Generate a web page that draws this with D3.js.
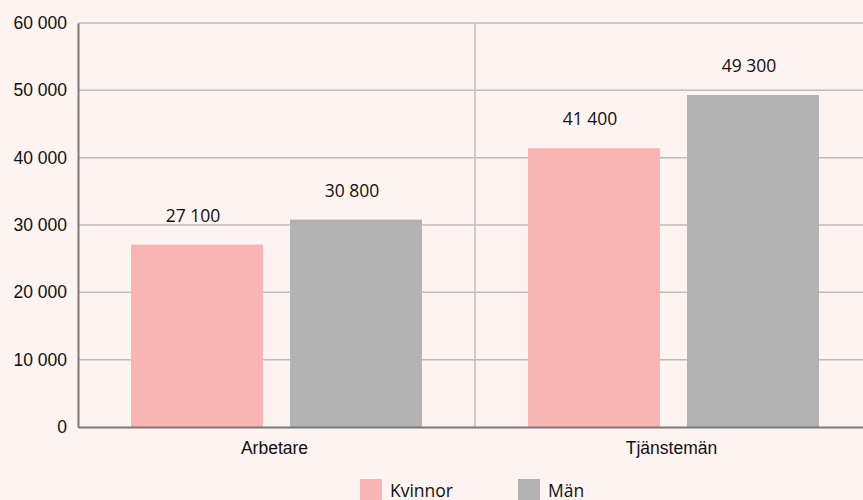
<!DOCTYPE html>
<html>
<head>
<meta charset="utf-8">
<script src="https://cdn.jsdelivr.net/npm/d3@7"></script>
<style>
  body { margin: 0; background: #fdf3f1; overflow: hidden; }
  svg { display: block; font-family: "Open Sans", "Noto Sans", sans-serif; }
</style>
</head>
<body>
<div id="chart"></div>
<script>
const categories = ["Arbetare", "Tjänstemän"];
const series = ["Kvinnor", "Män"];
const kvinnor = [27100, 41400];
const man = [30800, 49300];
const yTicks = [0, 10000, 20000, 30000, 40000, 50000, 60000];
const colors = ["#f9b5b3", "#b1b2b1"];

const width = 863;
const height = 500;
const margin = { top: 23, right: -9, bottom: 73, left: 78 };
const fontSize = 17.5;

const svg = d3.select("#chart").append("svg").attr("width", width).attr("height", height);

const x0 = d3
  .scaleBand()
  .domain(categories)
  .range([margin.left, width - margin.right]);

const x1 = d3
  .scaleBand()
  .domain(series)
  .range([53, 344])
  .paddingInner(0.17);

const y = d3
  .scaleLinear()
  .domain([0, 60000])
  .range([height - margin.bottom, margin.top]);

const fmt = (v) => d3.format(",")(v).replace(/,/g, " ");

// Gridlines
svg
  .append("g")
  .selectAll("line")
  .data(yTicks.slice(1))
  .join("line")
  .attr("x1", margin.left)
  .attr("x2", width)
  .attr("y1", (d) => y(d))
  .attr("y2", (d) => y(d))
  .attr("stroke", "#bfbcbb")
  .attr("stroke-width", 1.5);

// Divider between categories
svg
  .append("line")
  .attr("x1", x0("Tjänstemän"))
  .attr("x2", x0("Tjänstemän"))
  .attr("y1", y(60000))
  .attr("y2", y(0))
  .attr("stroke", "#bfbcbb")
  .attr("stroke-width", 1.5);

// Bars
const rows = categories.map((c, i) => ({ category: c, values: [kvinnor[i], man[i]] }));

const groups = svg
  .append("g")
  .selectAll("g")
  .data(rows)
  .join("g")
  .attr("transform", (d) => `translate(${x0(d.category)},0)`);

groups
  .selectAll("rect")
  .data((d) => d.values.map((v, i) => ({ key: series[i], value: v, i })))
  .join("rect")
  .attr("x", (d) => x1(d.key))
  .attr("width", x1.bandwidth())
  .attr("y", (d) => y(d.value))
  .attr("height", (d) => y(0) - y(d.value))
  .attr("fill", (d) => colors[d.i]);

groups
  .selectAll("text")
  .data((d) => d.values.map((v, i) => ({ key: series[i], value: v })))
  .join("text")
  .attr("x", (d) => x1(d.key) + x1.bandwidth() / 2 - 4)
  .attr("y", (d) => y(d.value) - 23)
  .attr("text-anchor", "middle")
  .attr("font-size", fontSize)
  .attr("fill", "#111")
  .text((d) => fmt(d.value));

// Y axis
const yAxis = svg
  .append("g")
  .attr("transform", `translate(${margin.left},0)`)
  .call(d3.axisLeft(y).tickValues(yTicks).tickSize(0).tickPadding(11).tickFormat(fmt));
yAxis.select(".domain").attr("stroke", "#7a7878").attr("stroke-width", 2);
yAxis.selectAll("text").attr("font-size", fontSize).attr("fill", "#111").attr("font-family", "inherit");

// X axis
const xAxis = svg
  .append("g")
  .attr("transform", `translate(0,${y(0)})`)
  .call(d3.axisBottom(x0).tickSize(0).tickPadding(15));
xAxis.select(".domain").attr("stroke", "#7a7878").attr("stroke-width", 2);
xAxis.selectAll("text").attr("font-size", fontSize).attr("fill", "#111").attr("font-family", "inherit").attr("dx", -2);

// Legend
const legendX = [360, 518];
const legend = svg
  .append("g")
  .selectAll("g")
  .data(series)
  .join("g")
  .attr("transform", (d, i) => `translate(${legendX[i]},479)`);

legend
  .append("rect")
  .attr("width", 22)
  .attr("height", 22)
  .attr("fill", (d, i) => colors[i]);

legend
  .append("text")
  .attr("x", 30)
  .attr("y", 18)
  .attr("font-size", fontSize)
  .attr("fill", "#111")
  .text((d) => d);
</script>
</body>
</html>
